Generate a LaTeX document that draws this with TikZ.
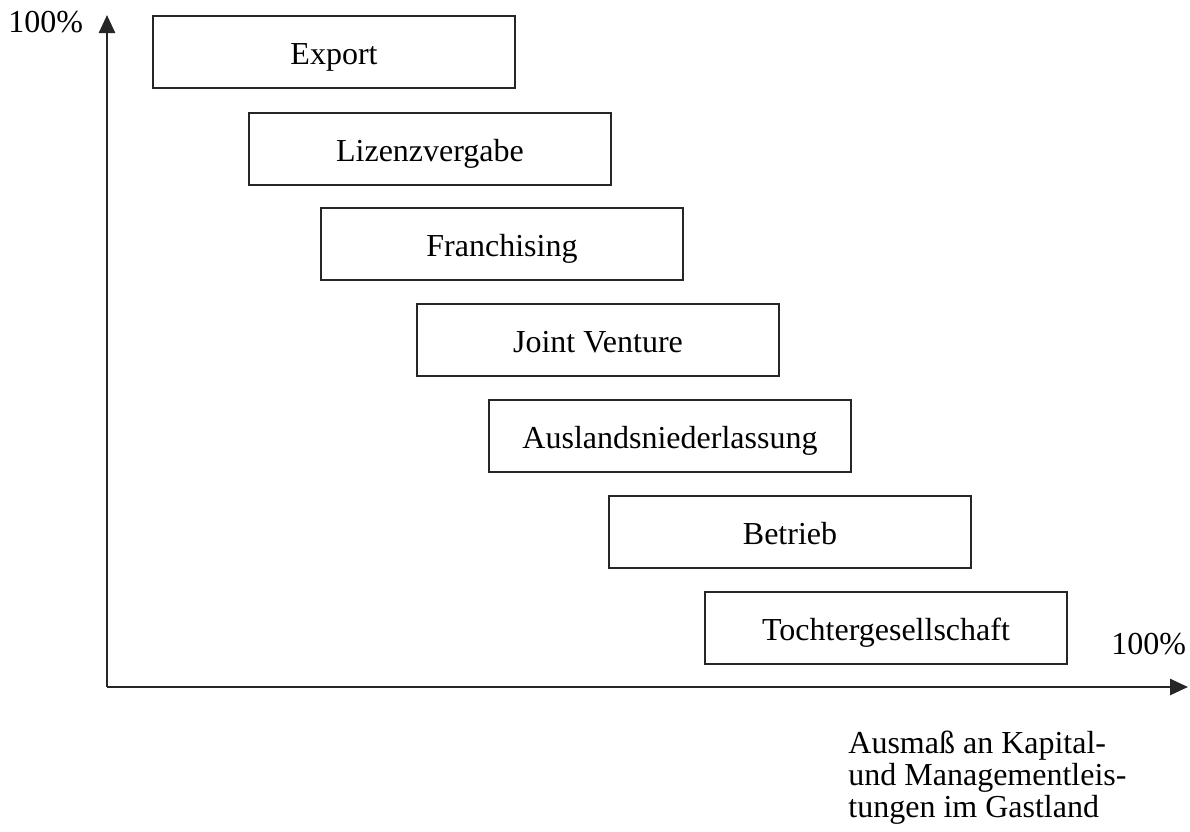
\documentclass[tikz,border=0pt]{standalone}
\usepackage{fontspec}
\setmainfont{Liberation Serif}
\usetikzlibrary{arrows.meta}
\begin{document}
\begin{tikzpicture}[x=0.5pt,y=-0.5pt,
  stagebox/.style={draw=black!85, line width=1.2pt, minimum width=181pt, minimum height=36pt, inner sep=0pt, text height=12pt, text depth=0pt, font=\fontsize{16}{16}\selectfont},
  lbl/.style={inner sep=0pt, font=\fontsize{16}{16}\selectfont},
  axis/.style={draw=black!85, line width=1.3pt, -{Triangle[width=8pt,length=9pt]}}]
\useasboundingbox (0,0) rectangle (1190,831);
\node[stagebox] (export) at (334,52) {Export};
\node[stagebox] (lizenz) at (430,149) {Lizenzvergabe};
\node[stagebox] (franch) at (502,244) {Franchising};
\node[stagebox] (joint) at (598,340) {Joint Venture};
\node[stagebox] (ausl) at (670,436) {Auslandsniederlassung};
\node[stagebox] (betrieb) at (790,532) {Betrieb};
\node[stagebox] (tochter) at (886,628) {Tochtergesellschaft};
\coordinate (origin) at (107,687);
\coordinate (ytop) at (107,15);
\coordinate (xend) at (1188,687);
\draw[axis] (origin) -- (ytop);
\draw[axis] (origin) -- (xend);
\node[lbl, anchor=base west] (ylabel) at (8,32) {100\%};
\node[lbl, anchor=base west] (xlabel) at (1111,654) {100\%};
\node[lbl, anchor=base west, align=left] (xtitle) at (848,817) {Ausmaß an Kapital-\\und Managementleis-\\tungen im Gastland};
\end{tikzpicture}
\end{document}
